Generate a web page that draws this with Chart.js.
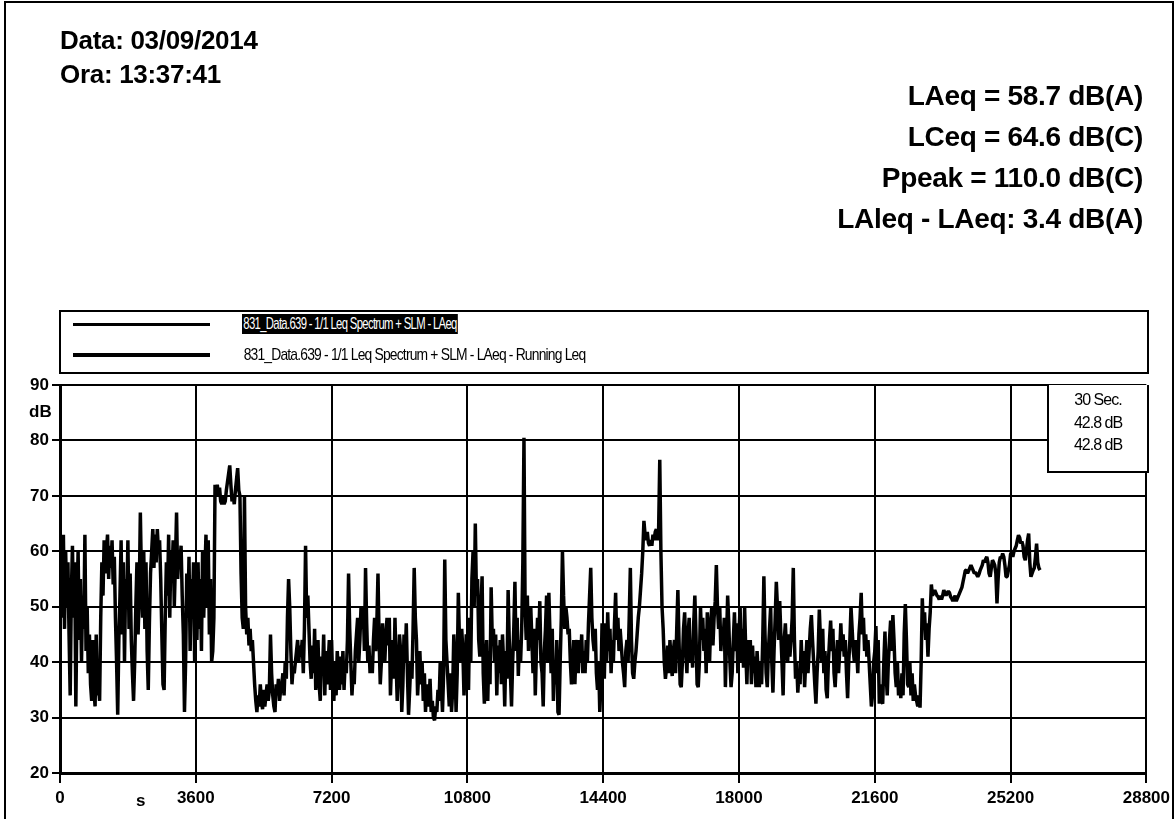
<!DOCTYPE html>
<html>
<head>
<meta charset="utf-8">
<script src="https://cdn.jsdelivr.net/npm/chart.js@4.4.0/dist/chart.umd.min.js"></script>
<style>
  html, body { margin: 0; padding: 0; background: #fff; }
  #wrap { position: relative; width: 1175px; height: 819px; overflow: hidden; font-family: 'Liberation Sans', Arial, sans-serif; color: #000; }
  #frame { position: absolute; left: 4px; top: 1px; width: 1166px; height: 840px; border: 2px solid #000; }
  #chart { position: absolute; left: 0; top: 0; }
  .hdr { position: absolute; font-weight: bold; white-space: nowrap; line-height: 1; letter-spacing: -0.3px; }
  .left { left: 60px; font-size: 26px; }
  .right { right: 32px; font-size: 28px; text-align: right; }
  #legend { position: absolute; left: 59px; top: 310px; width: 1086px; height: 60px; border: 2px solid #000; }
  .sample { position: absolute; left: 73px; width: 137px; background: #000; }
  .ltext { position: absolute; left: 242px; font-size: 17px; letter-spacing: -1px; line-height: 20px; white-space: nowrap; transform-origin: 0 50%; padding: 0 2px; }
  #info { position: absolute; left: 1047px; top: 385px; width: 98px; height: 86px; border: 2px solid #000; border-top: none; background: #fff; font-size: 16px; letter-spacing: -1px; text-align: center; }
  #info div { position: absolute; left: 0; width: 100%; line-height: 1; }
  .axlbl { position: absolute; font-weight: bold; font-size: 17px; line-height: 1; }
</style>
</head>
<body>
<div id="wrap">
  <canvas id="chart" width="1175" height="819"></canvas>
  <div id="frame"></div>

  <div class="hdr left" style="top:27px">Data: 03/09/2014</div>
  <div class="hdr left" style="top:61px">Ora: 13:37:41</div>
  <div class="hdr right" style="top:82px">LAeq = 58.7 dB(A)</div>
  <div class="hdr right" style="top:123px">LCeq = 64.6 dB(C)</div>
  <div class="hdr right" style="top:164px">Ppeak = 110.0 dB(C)</div>
  <div class="hdr right" style="top:205px">LAleq - LAeq: 3.4 dB(A)</div>

  <div id="legend"></div>
  <div class="sample" style="top:323px;height:3px"></div>
  <div class="sample" style="top:353px;height:4px"></div>
  <div class="ltext" id="lt1" data-w="216" style="top:314px;background:#000;color:#fff">831_Data.639 - 1/1 Leq Spectrum + SLM - LAeq</div>
  <div class="ltext" id="lt2" data-w="345" style="top:345px">831_Data.639 - 1/1 Leq Spectrum + SLM - LAeq - Running Leq</div>

  <div id="info">
    <div style="top:7px">30 Sec.</div>
    <div style="top:30px">42.8 dB</div>
    <div style="top:52px">42.8 dB</div>
  </div>

  <div class="axlbl" style="left:29px;top:403px">dB</div>
  <div class="axlbl" style="left:136px;top:792px">s</div>
</div>

<script>
const hour1 = [55,62,48,63,46,60,50,58,45, 34,52,61,48,58,32,50,60,44, 55,40,52,46,63,42,50,38,45,
  36,33,44,35,32,45,34,36,33, 48,58,52,62,56,60,63,55,61, 57,62,54,59,48,40,30.5,44,52,
  62,45,58,40,55,50,62,46,56, 44,38,33,40,50,58,45,52,67, 55,48,60,46,58,42,35,47,56,
  60,64,57,63,58,64,60,62,55, 45,36,35,48,58,52,63,48,60, 56,62,50,58,67,55,60,58,61,
  52,45,31,40,56,48,59,42,55, 50,58,40];
const hour2 = [52,44,58,46,55,42,60,48,56, 63,50,62,45,55,40,42,48,72, 71,72,70,71.5,69,68.5,70,68.5,69,
  71,72.5,74,75.5,72,69,70,68.5,71, 73,75,71,70,56,48,46,70,50, 45,48,43,46,42,44,40,36,33,
  31,34,32,36,33,31.5,35,32,34, 36,33,35,45,38,34,32,31,36, 34,37,33,35,36,38,34,40,37,
  48,55,50,42,36,39,38,40,42, 44,40,43,41,44,38,46,61,48, 52,46,40,37,43,38,46,35,40,
  44,36,33,41,38,45,34,42,36, 40,44,35];
const hour3 = [44,36,33,40,34,42,38,35,41, 36,42,35,40,38,44,56,46,40, 34,38,36,42,45,48,40,44,50,
  46,50,42,57,47,40,43,38,41, 38,44,48,42,47,56,44,36,40, 47,42,40,45,48,43,48,34,40,
  44,37,48,40,33,38,45,42,31, 36,45,40,47,38,30.5,35,40,37, 46,57,48,44,34,38,42,36,40,
  33,38,31,36,34,32,37,31,33, 30,29.5,32,31,35,33,40,36,31, 38,58.5,44,40,36,32,38,31,35,
  45,40,31,38,52.5,44,40,46,42, 34,39,45];
const hour4 = [42,35,48,40,55,60,50,65,52, 55,44,41,50,55.5,38,32.5,40,44, 33,42,36,53.5,44,46,40,45,34,
  43,38,44,36,45,40,32,42,37, 53,44,38,32,40,46,54.5,42,48, 37.5,44,40,46,58,80.5,50,44,52,
  42,48,50,44,38,46,34,42,48, 44,51,40,38,32,42,46,52,40, 52.5,45,38,46,33,40,36,44,31,
  30.5,40,48,60,52,46,50,48,45, 46,40,36,38,44,36,42,44,38, 44,40,45,38,42,38,44,40,47,
  52,57,48,44,42,46,38,35,40, 31,36,47];
const hour5 = [44,37,47,40,49,42,46,38,44, 40,47,52.5,44,48,42,46,43,40, 38,35.5,42,44,40,48,57,44,38,
  37,40,42,45,48,50,53,56,60, 65.5,63,62,63.5,61.5,61,62,61,63, 62,63.5,64,62,64,76.5,60,50,46,
  40,37,39,43,38,44,40,37.5,42, 44,38,46,53,44,36,35.5,40,46, 49,42,38,45,48,40,44,39,47,
  52,45,36,35.5,40,50,44,48,42, 46,38,49,44,40,47,50,43,48, 51,57.5,50,46,50,42,46,44,48,
  35.5,44,52,47,40,35.5,38,44,49, 42,47,38];
const hour6 = [45,50,40,46,39,49.8,42,36,44, 40,44,36,43,38,41,35.5,42,38, 35.5,40,36,44,55.5,45,38,35.5,42,
  46,50,40,34.5,42,48,54.5,50,44, 51,45,40,34,44,47,42,40,45, 41,44,48,57,44,37,40,34.5,38,
  36,44,38,42,35.5,40,44,38,42, 46,48.5,44,40,36,32.5,38,42,49.5, 44,40,46,38,42,35,33.5,40,44,
  47.5,42,46,38,35.5,40,44,38,42, 47,42,45,41,44,38,33.5,40,44, 50,46,42,40,44,42,38,45,48,
  52.5,45,48,42,45,41,44,40,36, 32,34,40];
const hour7 = [42,46.5,38,44,32.5,36,33,32.5,40, 45.5,38,34,40,44,47.5,42,48.5,44, 38,35.5,40,34,36,33.5,38,34,45,
  50.5,44,36,35.5,40,34,38,33,36, 34,33,32,34,31.8,40,51.5,46,49, 44,47,41,46,49,54,52,52.5,53,
  52.5,52,51.8,51.3,52,51.3,52,53,52.5, 52,52.5,52.8,52.5,51.8,51.5,51,51.5,52, 51,51.5,52,52.5,53,53.5,54.5,55.5,56.5,
  56.6,56,56.5,57,57.5,57,56.5,56,56.2, 55.8,55.4,55.8,56.5,57,57.5,58.4,58,58.6, 59,58,56,55.4,57,58.4,58,57.5,56,
  50.6,55,58,59,58.8,59.6,59,57.5,55.4, 55.4,56.5,57.5];
const hour8 = [59.5,59.8,59,60,60.5,61,62,62.9,62.5, 61.4,61.8,61,59,58.4,60,62,63.2,58, 55.4,56,56.6,57,59,61.4,58,57,56.6];

const sampleStep = 30; // seconds between samples
const xTicks = [0, 3600, 7200, 10800, 14400, 18000, 21600, 25200, 28800];
const yTicks = [20, 30, 40, 50, 60, 70, 80, 90];

const laeq = [].concat(hour1, hour2, hour3, hour4, hour5, hour6, hour7, hour8);
const points = laeq.map((v, i) => ({ x: i * sampleStep, y: v }));

// squeeze legend text to the narrow look of the original
document.querySelectorAll('.ltext').forEach(el => {
  const w = el.getBoundingClientRect().width;
  el.style.transform = 'scaleX(' + (el.dataset.w / w) + ')';
});

const tickFont = { family: "'Liberation Sans', Arial, sans-serif", size: 17, weight: 'bold' };

new Chart(document.getElementById('chart').getContext('2d'), {
  type: 'line',
  data: {
    datasets: [{
      label: '831_Data.639 - 1/1 Leq Spectrum + SLM - LAeq',
      data: points,
      borderColor: '#000',
      borderWidth: 3.5,
      borderJoinStyle: 'bevel',
      pointRadius: 0,
      tension: 0,
      fill: false
    }]
  },
  options: {
    responsive: false,
    animation: false,
    devicePixelRatio: 1,
    layout: { padding: { top: 385, right: 27, bottom: 0, left: 0 } },
    plugins: { legend: { display: false }, tooltip: { enabled: false } },
    scales: {
      x: {
        type: 'linear',
        min: 0,
        max: 28800,
        afterBuildTicks: scale => { scale.ticks = xTicks.map(v => ({ value: v })); },
        afterFit: scale => { scale.height = 46; },
        grid: { color: '#000', lineWidth: 2, tickLength: 10 },
        border: { color: '#000', width: 3 },
        ticks: { color: '#000', font: tickFont, padding: 5, maxRotation: 0, autoSkip: false, callback: v => String(v) }
      },
      y: {
        min: 20,
        max: 90,
        afterBuildTicks: scale => { scale.ticks = yTicks.map(v => ({ value: v })); },
        afterFit: scale => { scale.width = 60; },
        grid: { color: '#000', lineWidth: 2, tickLength: 8 },
        border: { color: '#000', width: 3 },
        ticks: { color: '#000', font: tickFont, padding: 3, callback: v => String(v) }
      }
    }
  }
});
</script>
</body>
</html>
